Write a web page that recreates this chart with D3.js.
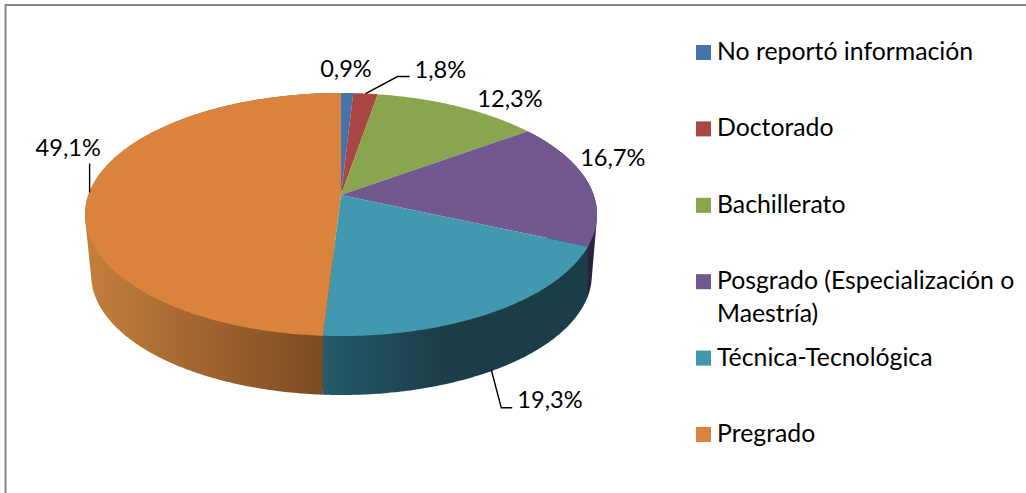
<!DOCTYPE html>
<html>
<head>
<meta charset="utf-8">
<script src="https://cdn.jsdelivr.net/npm/d3@7"></script>
<style>
    html, body { margin: 0; padding: 0; background: #fff; overflow: hidden; }
    text { font-family: Lato, "Open Sans", sans-serif; fill: #000; }
</style>
</head>
<body>
<div id="chart"></div>
<script>
// Chart data
var categories = ["No reportó información", "Doctorado", "Bachillerato", "Posgrado (Especialización o Maestría)", "Técnica-Tecnológica", "Pregrado"];
var values = [0.9, 1.8, 12.3, 16.7, 19.3, 49.1];
var valueLabels = ["0,9%", "1,8%", "12,3%", "16,7%", "19,3%", "49,1%"];
var colors = ["#4673a9", "#aa4643", "#89a54e", "#71588f", "#4198af", "#da833c"];

var width = 1026,
    height = 493,
    labelSize = 23.6,
    legendSize = 24.8;

// Perspective of the pie: rim(angle) = centre + (A sin, -B cos) / (1 + k cos)
var topRim = {cx: 341, cy: 195, a: 252.7, b: 118.4, k: 0.1605},
    bottomRim = {cx: 341.5, cy: 246.2, a: 243, b: 113.1, k: 0.24};

function project(rim, angle) {
    var w = 1 + rim.k * Math.cos(angle);
    return [rim.cx + rim.a * Math.sin(angle) / w, rim.cy - rim.b * Math.cos(angle) / w];
}

function arcPoints(rim, a0, a1) {
    var n = Math.max(2, Math.ceil((a1 - a0) / 0.01));
    return d3.range(n + 1).map(function(i) { return project(rim, a0 + (a1 - a0) * i / n); });
}

var line = d3.line();

var slices = d3.pie().sort(null)(values);

var svg = d3.select("#chart").append("svg")
    .attr("width", width)
    .attr("height", height)
    .style("display", "block");

// Chart frame, only top and left edges are in the crop
svg.append("path")
    .attr("d", "M5.5," + height + "V5H" + width)
    .attr("fill", "none")
    .attr("stroke", "#868686")
    .attr("stroke-width", 2);

// Wall shading, in drawing order
var wallShades = [
    {i: 3, x: [560, 600], stops: ["#2b2140", "#2b2140"]},
    {i: 5, x: [90, 324], stops: ["#c47e3c", "#7a4a22"]},
    {i: 4, x: [324, 445], stops: ["#245a69", "#1b3d47"]}
];
var defs = svg.append("defs");
wallShades.forEach(function(s) {
    var g = defs.append("linearGradient")
        .attr("id", "wall" + s.i)
        .attr("gradientUnits", "userSpaceOnUse")
        .attr("x1", s.x[0]).attr("x2", s.x[1])
        .attr("y1", 0).attr("y2", 0);
    g.append("stop").attr("offset", 0).attr("stop-color", s.stops[0]);
    g.append("stop").attr("offset", 1).attr("stop-color", s.stops[1]);
});

// Walls first, the top face covers whatever is on the far side.
// Hull keeps the straight silhouette between the two rims.
svg.append("g").selectAll("path")
    .data(wallShades)
    .enter().append("path")
    .attr("fill", function(s) { return "url(#wall" + s.i + ")"; })
    .attr("d", function(s) {
        var d = slices[s.i];
        return line(d3.polygonHull(arcPoints(topRim, d.startAngle, d.endAngle)
            .concat(arcPoints(bottomRim, d.startAngle, d.endAngle)))) + "Z";
    });

// Top face
svg.append("g").selectAll("path")
    .data(slices)
    .enter().append("path")
    .attr("fill", function(d, i) { return colors[i]; })
    .attr("d", function(d) {
        return line([[topRim.cx, topRim.cy]].concat(arcPoints(topRim, d.startAngle, d.endAngle))) + "Z";
    });

// Data labels, placed relative to the rim at each slice's middle angle
var labelPlacement = [
    {dx: -27, dy: -16, rim: topRim},
    {dx: 49, dy: -16, rim: topRim, leader: [[0, 0], [32, -17], [44, -17]]},
    {dx: 19, dy: 1, rim: topRim},
    {dx: -8, dy: -17, rim: topRim},
    {dx: 17, dy: 40, rim: bottomRim, leader: [[-9, 2], [1, 40], [12, 40]]},
    {dx: -54, dy: -35, rim: topRim, leader: [[0, 1], [0, -28]]}
];

var labels = svg.append("g").selectAll("g")
    .data(slices)
    .enter().append("g")
    .attr("transform", function(d) {
        var p = project(labelPlacement[d.index].rim, (d.startAngle + d.endAngle) / 2);
        return "translate(" + p[0] + "," + p[1] + ")";
    });

labels.filter(function(d) { return labelPlacement[d.index].leader; })
    .append("path")
    .attr("fill", "none")
    .attr("stroke", "#000")
    .attr("stroke-width", 1.4)
    .attr("d", function(d) { return line(labelPlacement[d.index].leader); });

labels.append("text")
    .attr("x", function(d) { return labelPlacement[d.index].dx; })
    .attr("y", function(d) { return labelPlacement[d.index].dy; })
    .style("font-size", labelSize + "px")
    .text(function(d) { return valueLabels[d.index]; });

// Legend
var legendY = d3.scaleLinear().domain([0, categories.length - 1]).range([45, 427]);
var legendLines = [[categories[0]], [categories[1]], [categories[2]], ["Posgrado (Especialización o", "Maestría)"], [categories[4]], [categories[5]]];

var legend = svg.append("g").selectAll("g")
    .data(categories)
    .enter().append("g")
    .attr("transform", function(d, i) { return "translate(696," + legendY(i) + ")"; });

legend.append("rect")
    .attr("width", 15)
    .attr("height", 15)
    .attr("fill", function(d, i) { return colors[i]; });

legend.append("text")
    .attr("y", 15)
    .style("font-size", legendSize + "px")
    .selectAll("tspan")
    .data(function(d, i) { return legendLines[i]; })
    .enter().append("tspan")
    .attr("x", 21)
    .attr("dy", function(d, i) { return i ? 33 : 0; })
    .text(function(d) { return d; });
</script>
</body>
</html>
